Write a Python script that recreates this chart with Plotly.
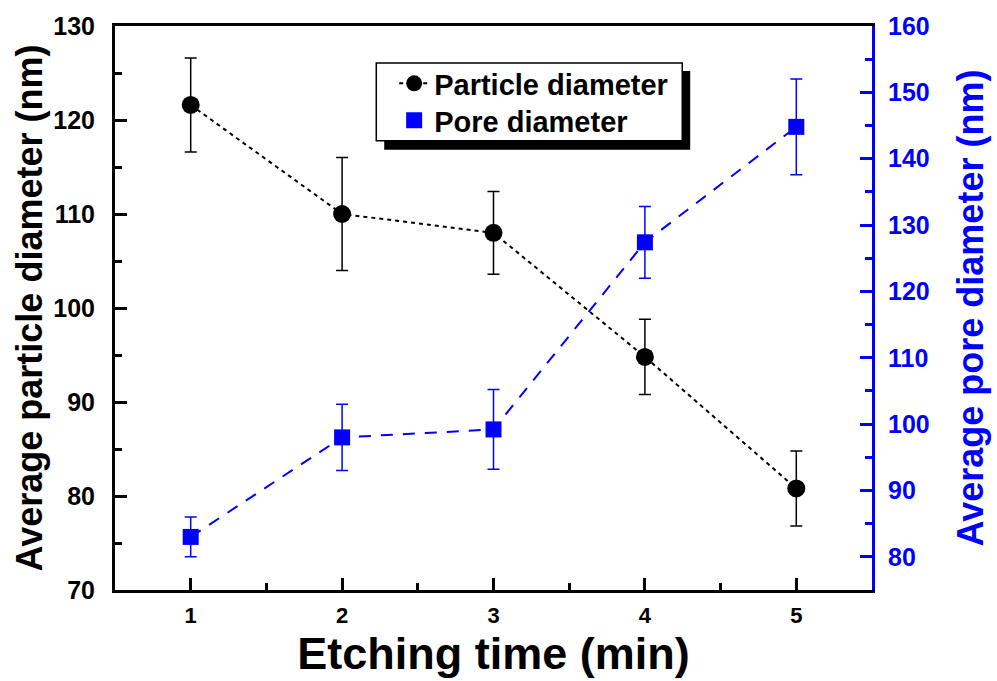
import plotly.graph_objects as go

etching_time = [1, 2, 3, 4, 5]
particle_diameter = [121.6, 110.0, 108.0, 94.8, 80.8]
particle_error = [5.0, 6.0, 4.4, 4.0, 4.0]
pore_diameter = [83.0, 98.0, 99.2, 127.4, 144.8]
pore_error = [3.0, 5.0, 6.0, 5.4, 7.2]

FONT = "Liberation Sans"
BLUE = "#0000ff"

# plot-area pixel geometry (page coordinates)
L, R, T, B = 115, 877, 25, 590
W, H = R - L, B - T


def px(x):
    return (x - L) / W


def py(y):
    return 1 - (y - T) / H


fig = go.Figure()

fig.add_trace(go.Scatter(
    x=etching_time, y=particle_diameter, name="Particle diameter",
    mode="lines+markers",
    line=dict(color="black", width=2, dash="4px,4px"),
    marker=dict(symbol="circle", size=18, color="black"),
    error_y=dict(type="data", array=particle_error, color="black", thickness=1.5, width=6),
    yaxis="y", legend="legend",
))

fig.add_trace(go.Scatter(
    x=etching_time, y=pore_diameter, name="Pore diameter line",
    mode="lines", showlegend=False,
    line=dict(color=BLUE, width=2, dash="12px,10px"),
    yaxis="y2",
))
fig.add_trace(go.Scatter(
    x=etching_time, y=pore_diameter, name="Pore diameter",
    mode="markers",
    marker=dict(symbol="square", size=16, color=BLUE),
    error_y=dict(type="data", array=pore_error, color=BLUE, thickness=1.5, width=6),
    yaxis="y2", legend="legend2",
))

# legend shadow and box
fig.add_shape(type="rect", xref="paper", yref="paper",
              x0=px(386), x1=px(694), y0=py(149), y1=py(70),
              fillcolor="black", line=dict(width=0), layer="above")
fig.add_shape(type="rect", xref="paper", yref="paper",
              x0=px(378), x1=px(686), y0=py(140), y1=py(62),
              fillcolor="white", line=dict(width=1.5, color="black"), layer="above")

legend_font = dict(family=FONT, size=29, color="black", weight="bold")

fig.update_layout(
    width=997, height=681,
    margin=dict(l=L, r=997 - R, t=T, b=681 - B),
    plot_bgcolor="white", paper_bgcolor="white",
    font=dict(family=FONT, color="black", weight="bold"),
    showlegend=True,
    legend=dict(
        x=px(396), y=py(57), xanchor="left", yanchor="top",
        bgcolor="rgba(0,0,0,0)", borderwidth=0, font=legend_font, itemsizing="trace",
    ),
    legend2=dict(
        x=px(396), y=py(94), xanchor="left", yanchor="top",
        bgcolor="rgba(0,0,0,0)", borderwidth=0, font=legend_font, itemsizing="trace",
    ),
    xaxis=dict(
        range=[0.5, 5.5], tickvals=[1, 2, 3, 4, 5],
        showline=True, linecolor="black", linewidth=3, mirror=True,
        ticks="inside", ticklen=12, tickwidth=3, tickcolor="black",
        minor=dict(ticks="inside", ticklen=7, tickwidth=3, dtick=0.5, tickcolor="black"),
        showgrid=False, zeroline=False,
        tickfont=dict(family=FONT, size=22, color="black", weight="bold"),
        ticklabelstandoff=4,
        title=dict(text="Etching time (min)", font=dict(family=FONT, size=45, color="black", weight="bold"), standoff=4),
    ),
    yaxis=dict(
        range=[70, 130], dtick=10,
        showline=True, linecolor="black", linewidth=3,
        ticks="inside", ticklen=12, tickwidth=3, tickcolor="black",
        minor=dict(ticks="inside", ticklen=7, tickwidth=3, dtick=5, tickcolor="black"),
        showgrid=False, zeroline=False,
        tickfont=dict(family=FONT, size=25, color="black", weight="bold"),
        ticklabelstandoff=12,
        title=dict(text="Average particle diameter (nm)", font=dict(family=FONT, size=36, color="black", weight="bold"), standoff=0),
    ),
    yaxis2=dict(
        range=[75, 160], tickvals=[80, 90, 100, 110, 120, 130, 140, 150, 160],
        overlaying="y", side="right",
        showline=True, linecolor=BLUE, linewidth=3,
        ticks="inside", ticklen=12, tickwidth=3, tickcolor=BLUE,
        minor=dict(ticks="inside", ticklen=7, tickwidth=3, tickvals=[85, 95, 105, 115, 125, 135, 145, 155], tickcolor=BLUE),
        showgrid=False, zeroline=False,
        tickfont=dict(family=FONT, size=25, color=BLUE, weight="bold"),
        ticklabelstandoff=8,
        title=dict(text="Average pore diameter (nm)", font=dict(family=FONT, size=36, color=BLUE, weight="bold"), standoff=30),
    ),
)

fig.write_html("out.html", config={"displayModeBar": False},
               post_script="document.body.style.margin='0px';")
